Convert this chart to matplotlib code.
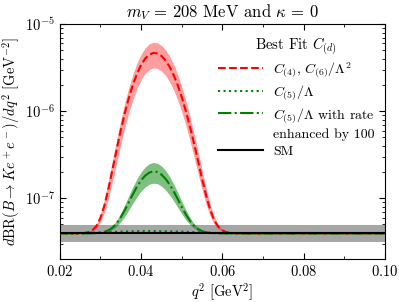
import matplotlib
matplotlib.use("Agg")
import matplotlib.pyplot as plt
import numpy as np
from matplotlib.lines import Line2D
from matplotlib.ticker import MultipleLocator

plt.rcParams['font.family'] = 'serif'
plt.rcParams['font.serif'] = ['cmr10']
plt.rcParams['mathtext.fontset'] = 'cm'
plt.rcParams['axes.formatter.use_mathtext'] = True

# q^2 grid [GeV^2]
q2 = [0.020, 0.025, 0.026, 0.027, 0.028, 0.029, 0.030, 0.031, 0.032, 0.033, 0.034,
      0.035, 0.036, 0.037, 0.038, 0.039, 0.040, 0.041, 0.042, 0.043, 0.044,
      0.045, 0.046, 0.047, 0.048, 0.049, 0.050, 0.051, 0.052, 0.053, 0.054,
      0.055, 0.056, 0.057, 0.058, 0.059, 0.060, 0.061, 0.062, 0.063, 0.064,
      0.070, 0.080, 0.090, 0.100]

# all rates in units of 1e-8 GeV^-2
sm = [3.95] * len(q2)
sm_hi = [4.90] * len(q2)
sm_lo = [3.15] * len(q2)

red_mid = [3.95, 3.95, 4.00, 4.08, 4.29, 4.80, 5.96, 8.38, 13.2, 22.0, 36.9,
           60.8, 95.8, 144, 203, 271, 341, 403, 448, 467, 460,
           431, 383, 324, 260, 199, 145, 100, 66.8, 42.9, 26.8,
           16.7, 10.7, 7.34, 5.57, 4.69, 4.27, 4.08, 4.00, 3.97, 3.95,
           3.95, 3.95, 3.95, 3.95]
red_hi = [3.95, 3.95, 4.01, 4.12, 4.40, 5.08, 6.62, 9.84, 16.2, 27.9, 47.7,
          79.5, 126, 190, 269, 360, 452, 535, 594, 620, 611,
          571, 508, 429, 344, 263, 191, 132, 87.5, 55.7, 34.3,
          20.9, 12.9, 8.46, 6.10, 4.93, 4.37, 4.12, 4.02, 3.98, 3.95,
          3.95, 3.95, 3.95, 3.95]
red_lo = [3.95, 3.95, 3.98, 4.04, 4.18, 4.52, 5.30, 6.92, 10.1, 16.0, 26.0,
          42.0, 65.5, 97.5, 137, 183, 230, 271, 301, 314, 310,
          290, 258, 218, 175, 134, 98.1, 68.5, 46.0, 30.0, 19.2,
          12.5, 8.47, 6.22, 5.04, 4.44, 4.16, 4.04, 3.98, 3.96, 3.95,
          3.95, 3.95, 3.95, 3.95]

green_mid = [3.95, 3.95, 3.95, 3.95, 3.96, 3.98, 4.03, 4.12, 4.30, 4.63, 5.18,
             6.06, 7.34, 9.08, 11.2, 13.7, 16.1, 18.2, 19.7, 20.4, 20.0,
             18.7, 16.7, 14.4, 12.0, 9.78, 7.93, 6.51, 5.51, 4.84, 4.43,
             4.19, 4.07, 4.00, 3.97, 3.96, 3.95, 3.95, 3.95, 3.95, 3.95,
             3.95, 3.95, 3.95, 3.95]
green_hi = [3.95, 3.95, 3.95, 3.96, 3.97, 3.99, 4.05, 4.17, 4.41, 4.85, 5.59,
            6.76, 8.46, 10.8, 13.6, 16.9, 20.1, 22.9, 24.9, 25.8, 25.2,
            23.5, 20.9, 17.8, 14.6, 11.7, 9.24, 7.35, 6.02, 5.13, 4.59,
            4.27, 4.10, 4.02, 3.98, 3.96, 3.95, 3.95, 3.95, 3.95, 3.95,
            3.95, 3.95, 3.95, 3.95]
green_lo = [3.95, 3.95, 3.95, 3.95, 3.96, 3.97, 4.00, 4.06, 4.18, 4.40, 4.78,
            5.36, 6.22, 7.39, 8.83, 10.4, 12.1, 13.5, 14.5, 14.9, 14.7,
            13.8, 12.5, 10.9, 9.33, 7.86, 6.62, 5.67, 4.99, 4.55, 4.27,
            4.11, 4.03, 3.99, 3.96, 3.96, 3.95, 3.95, 3.95, 3.95, 3.95,
            3.95, 3.95, 3.95, 3.95]

# C5/Lambda without enhancement: tiny bump on top of SM
green_dot = [3.95, 3.96, 3.97, 3.99, 4.01, 4.03, 4.05, 4.07, 4.09, 4.11, 4.12,
             4.14, 4.15, 4.16, 4.17, 4.18, 4.19, 4.19, 4.19, 4.19, 4.19,
             4.18, 4.17, 4.17, 4.16, 4.15, 4.14, 4.12, 4.10, 4.08, 4.07,
             4.05, 4.04, 4.02, 4.00, 3.99, 3.97, 3.96, 3.95, 3.95, 3.95,
             3.95, 3.95, 3.95, 3.95]

scale = 1e-8
x = np.array(q2)

fig = plt.figure(figsize=(3.99, 3.02), dpi=100)
ax = fig.add_axes([0.150, 0.142, 0.815, 0.778])

ax.fill_between(x, np.array(sm_lo) * scale, np.array(sm_hi) * scale,
                color='#a6a6a6', lw=0, zorder=1)
ax.fill_between(x, np.array(red_lo) * scale, np.array(red_hi) * scale,
                color='red', alpha=0.38, lw=0, zorder=2)
ax.fill_between(x, np.array(green_lo) * scale, np.array(green_hi) * scale,
                color='green', alpha=0.5, lw=0, zorder=2)

ax.plot(x, np.array(red_mid) * scale, color='red', ls='--', lw=1.5, zorder=3)
ax.plot(x, np.array(green_dot) * scale, color='green', ls=':', lw=1.5, zorder=3)
ax.plot(x, np.array(green_mid) * scale, color='green', ls='-.', lw=1.5, zorder=3)
ax.plot(x, np.array(sm) * scale, color='black', ls='-', lw=1.5, zorder=4)

ax.set_yscale('log')
ax.set_xlim(0.02, 0.10)
ax.set_ylim(2e-8, 1e-5)
ax.xaxis.set_major_locator(MultipleLocator(0.02))
ax.xaxis.set_minor_locator(MultipleLocator(0.01))
ax.tick_params(which='both', direction='in', top=True, right=True, labelsize=10.5)
ax.tick_params(which='major', length=4.5)
ax.tick_params(which='minor', length=2.5)

ax.set_xlabel(r'$q^2$ [GeV$^2$]', fontsize=10.5, labelpad=2)
ax.set_ylabel(r'$d\mathrm{BR}(B\to Ke^+e^-)/dq^2$ [GeV$^{-2}$]', fontsize=10.5, labelpad=2)
ax.set_title(r'$m_V\,=\,208$ MeV and $\kappa\,=\,0$', fontsize=12, pad=5)

handles = [
    Line2D([], [], color='red', ls='--', lw=1.5),
    Line2D([], [], color='green', ls=':', lw=1.5),
    Line2D([], [], color='green', ls='-.', lw=1.5),
    Line2D([], [], ls='none'),
    Line2D([], [], color='black', ls='-', lw=1.5),
]
labels = [
    r'$C_{(4)}$, $C_{(6)}/\Lambda^2$',
    r'$C_{(5)}/\Lambda$',
    r'$C_{(5)}/\Lambda$ with rate',
    'enhanced by 100',
    'SM',
]
leg = ax.legend(handles, labels, loc='upper right', frameon=False,
                title=r'Best Fit $C_{(d)}$', fontsize=10, title_fontsize=10.5,
                handlelength=3.3, handletextpad=0.7, labelspacing=0.28,
                borderaxespad=0.35)

fig.savefig('out.png', dpi=100)
